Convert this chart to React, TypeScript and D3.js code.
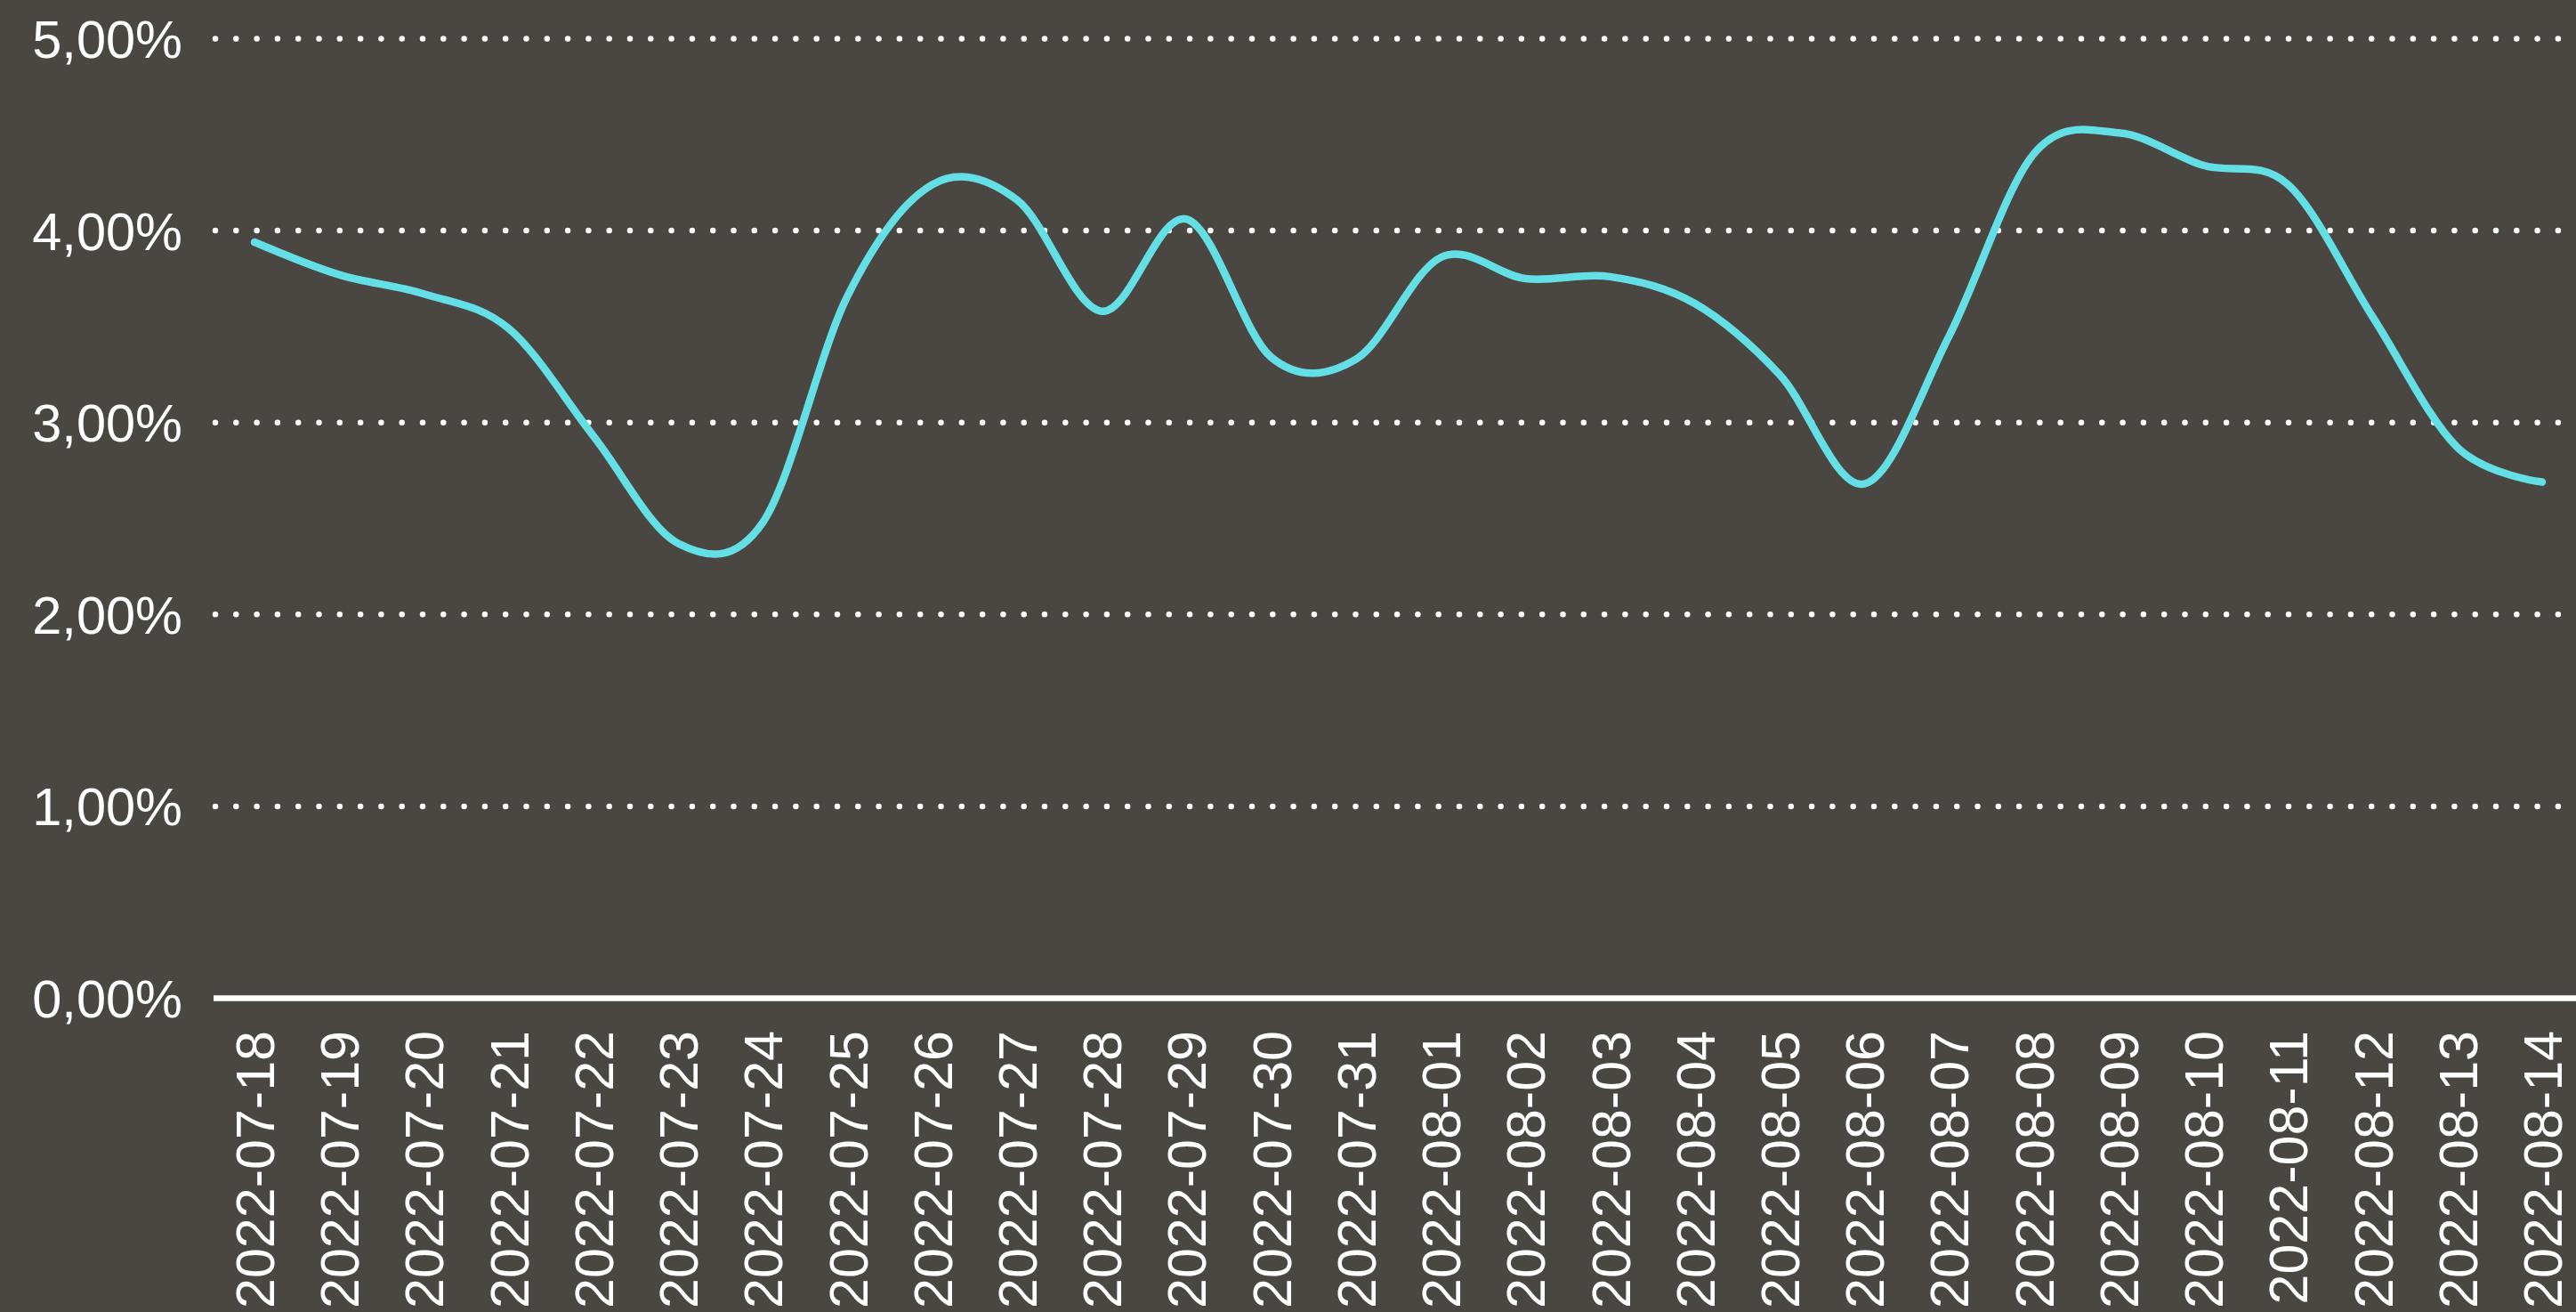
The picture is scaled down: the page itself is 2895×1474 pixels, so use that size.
import React from "react";
import * as d3 from "d3";

const dates: string[] = [
  "2022-07-18", "2022-07-19", "2022-07-20", "2022-07-21", "2022-07-22", "2022-07-23", "2022-07-24",
  "2022-07-25", "2022-07-26", "2022-07-27", "2022-07-28", "2022-07-29", "2022-07-30", "2022-07-31",
  "2022-08-01", "2022-08-02", "2022-08-03", "2022-08-04", "2022-08-05", "2022-08-06", "2022-08-07",
  "2022-08-08", "2022-08-09", "2022-08-10", "2022-08-11", "2022-08-12", "2022-08-13", "2022-08-14",
];

const rates: number[] = [
  3.94, 3.77, 3.67, 3.49, 2.93, 2.37, 2.48,
  3.66, 4.24, 4.16, 3.58, 4.06, 3.34, 3.33,
  3.86, 3.75, 3.76, 3.62, 3.25, 2.68, 3.45,
  4.40, 4.51, 4.34, 4.24, 3.55, 2.87, 2.69,
];

const yTicks: number[] = [0, 1, 2, 3, 4, 5];

const W = 2895;
const H = 1474;

export default function App() {
  const x = d3.scalePoint<string>().domain(dates).range([286, 2857]);
  const y = d3.scaleLinear().domain([0, 5]).range([1121.5, 43.5]);
  const line = d3
    .line<number>()
    .x((_, i) => x(dates[i]) as number)
    .y((d) => y(d))
    .curve(d3.curveCardinal.tension(0));
  const fmt = (v: number) => v.toFixed(2).replace(".", ",") + "%";
  const font = "'Liberation Sans', Arial, sans-serif";

  return (
    <svg
      width={W}
      height={H}
      style={{ position: "fixed", left: 0, top: 0, display: "block" }}
    >
      <rect x={0} y={0} width={W} height={H} fill="#4a4743" />
      {yTicks
        .filter((t) => t > 0)
        .map((t) => (
          <line
            key={"g" + t}
            x1={242}
            x2={W}
            y1={y(t)}
            y2={y(t)}
            stroke="#ffffff"
            strokeWidth={6.5}
            strokeLinecap="round"
            strokeDasharray="0 23.3"
          />
        ))}
      <line x1={240} x2={W} y1={y(0)} y2={y(0)} stroke="#ffffff" strokeWidth={6.5} />
      {yTicks.map((t) => (
        <text
          key={"yl" + t}
          x={205}
          y={y(t)}
          dy="0.36em"
          textAnchor="end"
          fill="#ffffff"
          fontFamily={font}
          fontSize={59.5}
        >
          {fmt(t)}
        </text>
      ))}
      {dates.map((d) => (
        <text
          key={"xl" + d}
          transform={`translate(${x(d)},1158) rotate(-90)`}
          dy="0.36em"
          textAnchor="end"
          fill="#ffffff"
          fontFamily={font}
          fontSize={61}
        >
          {d}
        </text>
      ))}
      <path
        d={line(rates) || ""}
        fill="none"
        stroke="#64dfe6"
        strokeWidth={8.5}
        strokeLinecap="round"
        strokeLinejoin="round"
      />
    </svg>
  );
}
